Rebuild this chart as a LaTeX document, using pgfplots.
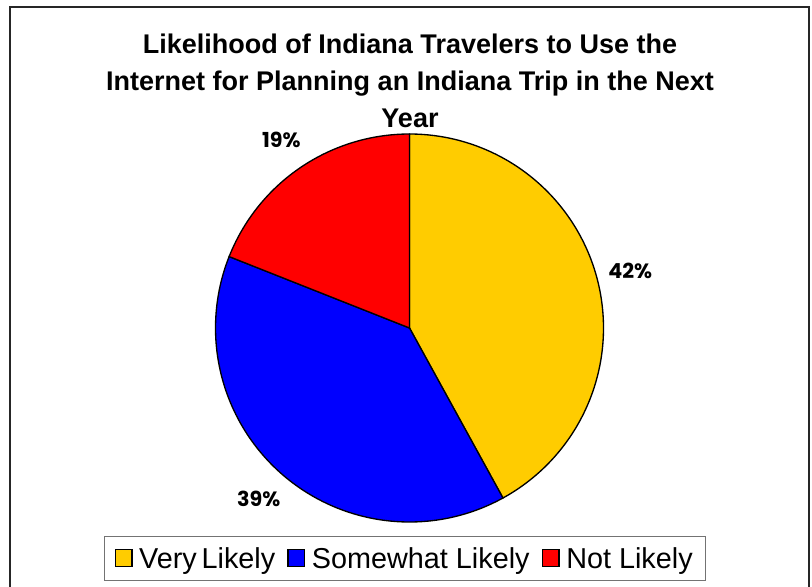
\documentclass[border=0pt]{standalone}
\usepackage{pgfplots}
\pgfplotsset{compat=1.18}
\usepackage{pgfplotstable}
\usepackage{fontspec}
\setmainfont{Liberation Sans}
\newfontfamily\pctfont{Poppins}
\definecolor{vyellow}{HTML}{FFCC00}
\definecolor{vblue}{HTML}{0000FF}
\definecolor{vred}{HTML}{FF0000}
\pgfplotstableread{
label value
Very 42
Somewhat 39
Not 19
}\piedata
\pgfplotstablegetelem{0}{value}\of\piedata \let\va\pgfplotsretval
\pgfplotstablegetelem{1}{value}\of\piedata \let\vb\pgfplotsretval
\pgfplotstablegetelem{2}{value}\of\piedata \let\vc\pgfplotsretval
\pgfmathsetmacro\aA{90}
\pgfmathsetmacro\aB{\aA-3.6*\va}
\pgfmathsetmacro\aC{\aB-3.6*\vb}
\pgfmathsetmacro\aD{\aC-3.6*\vc}
\pgfmathsetmacro\mA{(\aA+\aB)/2}
\pgfmathsetmacro\mB{(\aB+\aC)/2}
\pgfmathsetmacro\mC{(\aC+\aD)/2}
\def\cx{409.5}
\def\cy{258}
\def\R{194}
\def\L{228}
\begin{document}
\begin{tikzpicture}
\clip (0,0) rectangle (609pt,439.5pt);
\begin{axis}[
  at={(0,0)}, anchor=south west,
  x=0.75pt, y=0.75pt,
  xmin=0, xmax=812, ymin=0, ymax=586,
  hide axis, clip=false,
  legend columns=3,
  legend style={at={(axis cs:104,50)}, anchor=north west, draw=black!55, line width=0.8pt,
    font=\fontsize{21.6}{23}\selectfont, inner xsep=7.5pt, inner ysep=6pt,
    /tikz/every odd column/.append style={column sep=3pt},
    /tikz/every even column/.append style={column sep=7pt}},
  legend image code/.code={\draw[#1,draw=black,line width=1pt] (0pt,-6pt) rectangle (12.5pt,7pt);},
]
\draw[black!85, line width=1.5pt] (axis cs:10,579) rectangle (axis cs:809,-30);
\addplot[fill=vyellow, draw=black, line width=1pt, domain=\aB:\aA, samples=150, variable=\t]
  ({\cx+\R*cos(\t)},{\cy+\R*sin(\t)}) -- (axis cs:\cx,\cy) -- cycle;
\addlegendentry{Very\,Likely}
\addplot[fill=vblue, draw=black, line width=1pt, domain=\aC:\aB, samples=150, variable=\t]
  ({\cx+\R*cos(\t)},{\cy+\R*sin(\t)}) -- (axis cs:\cx,\cy) -- cycle;
\addlegendentry{Somewhat Likely}
\addplot[fill=vred, draw=black, line width=1pt, domain=\aD:\aC, samples=150, variable=\t]
  ({\cx+\R*cos(\t)},{\cy+\R*sin(\t)}) -- (axis cs:\cx,\cy) -- cycle;
\addlegendentry{Not Likely}
\node[font=\pctfont\bfseries\fontsize{15.5}{17}\selectfont] at (axis cs:{\cx+\L*cos(\mA)},{\cy+\L*sin(\mA)}) {\va\%};
\node[font=\pctfont\bfseries\fontsize{15.5}{17}\selectfont] at (axis cs:{\cx+\L*cos(\mB)},{\cy+\L*sin(\mB)}) {\vb\%};
\node[font=\pctfont\bfseries\fontsize{15.5}{17}\selectfont] at (axis cs:{\cx+\L*cos(\mC)},{\cy+\L*sin(\mC)}) {\vc\%};
\node[align=center, font=\bfseries\fontsize{20.25}{27.75}\selectfont] at (axis cs:410,505)
  {Likelihood of Indiana Travelers to Use the\\Internet for Planning an Indiana Trip in the Next\\Year};
\end{axis}
\end{tikzpicture}
\end{document}
